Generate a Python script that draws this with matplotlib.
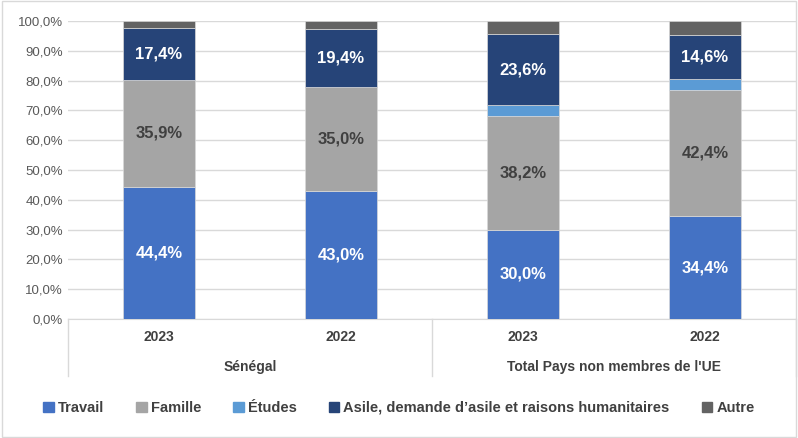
import numpy as np
import matplotlib.pyplot as plt
from matplotlib.lines import Line2D
from matplotlib.patches import Rectangle

plt.rcParams['font.family'] = ['Liberation Sans', 'DejaVu Sans']

# data (percent)
years = ['2023', '2022', '2023', '2022']
groups = ['Sénégal', "Total Pays non membres de l'UE"]
travail = [44.4, 43.0, 30.0, 34.4]
famille = [35.9, 35.0, 38.2, 42.4]
etudes = [0.0, 0.0, 3.7, 3.9]
asile = [17.4, 19.4, 23.6, 14.6]
autre = [2.3, 2.6, 4.5, 4.7]

series = [
    ('Travail', travail, '#4472C4', 'white'),
    ('Famille', famille, '#A5A5A5', '#404040'),
    ('Études', etudes, '#5B9BD5', None),
    ('Asile, demande d\u2019asile et raisons humanitaires', asile, '#264478', 'white'),
    ('Autre', autre, '#636363', None),
]

fig = plt.figure(figsize=(7.98, 4.38), dpi=100)
ax = fig.add_axes([68 / 798, 1 - 319 / 438, 728 / 798, 298 / 438])

x = np.arange(len(years))
bottom = np.zeros(len(years))
handles = []
for name, vals, color, tcolor in series:
    vals = np.array(vals)
    ax.bar(x, vals, 0.4, bottom=bottom, color=color, edgecolor='#d9d9d9',
           linewidth=0.5, zorder=3, label=name)
    if tcolor:
        for xi, b, v in zip(x, bottom, vals):
            ax.text(xi, b + v / 2, f'{v:.1f}%'.replace('.', ','), ha='center', va='center',
                    color=tcolor, fontsize=12, fontweight='bold', zorder=4)
    bottom += vals
    handles.append(Rectangle((0, 0), 1, 1, color=color))

ax.set_xlim(-0.5, len(years) - 0.5)
ax.set_ylim(0, 100)
ax.set_yticks(np.arange(0, 101, 10))
ax.set_yticklabels([f'{v},0%' for v in range(0, 101, 10)], fontsize=9.5, color='#595959')
ax.yaxis.grid(True, color='#d9d9d9', linewidth=1, zorder=0)
ax.tick_params(axis='both', length=0)
ax.set_xticks([])
for s in ['top', 'right', 'left']:
    ax.spines[s].set_visible(False)
ax.spines['bottom'].set_color('#d9d9d9')

# hierarchical category labels
trans = ax.get_xaxis_transform()
for xi, yr in zip(x, years):
    ax.text(xi, -18 / 298, yr, transform=trans, ha='center', va='center',
            fontsize=10, fontweight='bold', color='#404040')
for gi, g in enumerate(groups):
    ax.text(gi * 2 + 0.5, -48 / 298, g, transform=trans, ha='center', va='center',
            fontsize=10, fontweight='bold', color='#404040')
for xv in [-0.5, 1.5, 3.5]:
    ax.add_line(Line2D([xv, xv], [0, -57 / 298], transform=trans, color='#d9d9d9',
                       linewidth=1, clip_on=False))

fig.legend(handles, [s[0] for s in series], loc='center', bbox_to_anchor=(0.5, 1 - 408 / 438),
           ncol=5, frameon=False, prop={'size': 10.5, 'weight': 'bold'}, handlelength=0.7,
           handleheight=0.7, handletextpad=0.3, columnspacing=2.2, labelcolor='#404040')

fig.add_artist(Rectangle((0.003, 0.003), 0.994, 0.994, transform=fig.transFigure,
                         fill=False, edgecolor='#d9d9d9', linewidth=1))

fig.savefig('out.png', dpi=100)
